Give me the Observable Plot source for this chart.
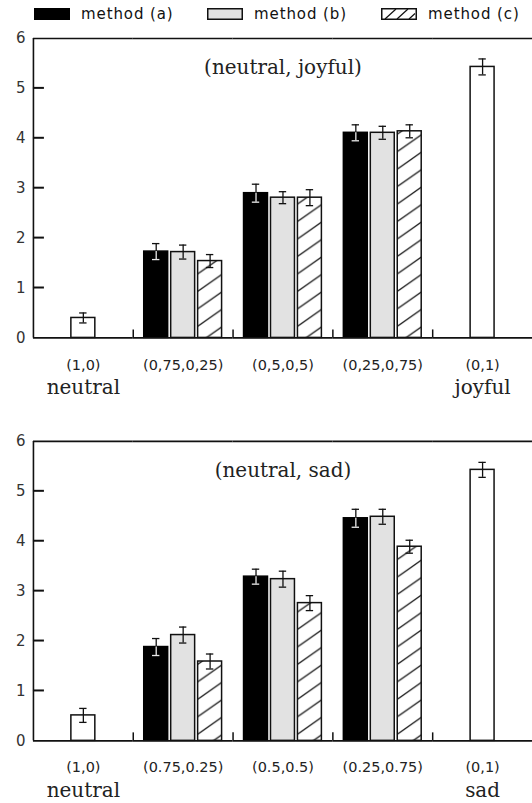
<!DOCTYPE html>
<html>
<head>
<meta charset="utf-8">
<script src="https://cdn.jsdelivr.net/npm/d3@7"></script>
<script src="https://cdn.jsdelivr.net/npm/@observablehq/plot@0.6"></script>
<style>
  html, body { margin: 0; padding: 0; background: #fff; }
  body { width: 532px; height: 803px; overflow: hidden; }
  #legend { position: relative; height: 28px; font-family: "DejaVu Sans", sans-serif; font-size: 15px; letter-spacing: 0.9px; color: #111; }
  .item { position: absolute; top: 0; height: 28px; display: flex; align-items: center; white-space: nowrap; }
  .item svg { margin-right: 11px; display: block; }
  svg.plotsvg { display: block; }
</style>
</head>
<body>
<svg width="0" height="0" style="position:absolute">
  <defs>
    <pattern id="hatch" patternUnits="userSpaceOnUse" width="25" height="17.5">
      <rect width="25" height="17.5" fill="#fff"></rect>
      <path d="M-1,0.7L26,-18.2M-1,18.2L26,-0.7M-1,35.7L26,16.8" stroke="#111" stroke-width="1.3"></path>
    </pattern>
  </defs>
</svg>
<div id="legend"></div>
<div id="top"></div>
<div id="bottom"></div>
<script>
// ---------- data ----------
const methodKeys = ["a", "b", "c"];
const methodNames = ["method (a)", "method (b)", "method (c)"];
const yTicks = [0, 1, 2, 3, 4, 5, 6];

// panel 1: (neutral, joyful)
const joyTitle = "(neutral, joyful)";
const joyLabels = ["(1,0)", "(0,75,0,25)", "(0,5,0,5)", "(0,25,0,75)", "(0,1)"];
const joyNames = ["neutral", "", "", "", "joyful"];
const joyEnds = [0.40, 5.43];        // (1,0) and (0,1)
const joyEndsErr = [0.10, 0.16];
const joyA = [1.73, 2.90, 4.11];
const joyAErr = [0.16, 0.18, 0.16];
const joyB = [1.72, 2.81, 4.11];
const joyBErr = [0.14, 0.12, 0.13];
const joyC = [1.54, 2.81, 4.14];
const joyCErr = [0.13, 0.16, 0.13];

// panel 2: (neutral, sad)
const sadTitle = "(neutral, sad)";
const sadLabels = ["(1,0)", "(0.75,0.25)", "(0.5,0.5)", "(0.25,0.75)", "(0,1)"];
const sadNames = ["neutral", "", "", "", "sad"];
const sadEnds = [0.51, 5.43];
const sadEndsErr = [0.14, 0.15];
const sadA = [1.88, 3.29, 4.46];
const sadAErr = [0.17, 0.15, 0.18];
const sadB = [2.12, 3.24, 4.49];
const sadBErr = [0.16, 0.16, 0.15];
const sadC = [1.59, 2.76, 3.89];
const sadCErr = [0.15, 0.15, 0.13];

// ---------- build rows ----------
function buildRows(ends, endsErr, A, AErr, B, BErr, C, CErr) {
  const rows = [];
  rows.push({g: 0, m: "b", v: ends[0], e: endsErr[0], end: true});
  [A, B, C].forEach((vals, mi) => {
    const errs = [AErr, BErr, CErr][mi];
    vals.forEach((v, i) => rows.push({g: i + 1, m: methodKeys[mi], v, e: errs[i], end: false}));
  });
  rows.push({g: 4, m: "b", v: ends[1], e: endsErr[1], end: true});
  return rows;
}

const groupsIdx = d3.range(joyLabels.length);
const MARGIN_LEFT = 33;

function panel(rows, labels, names, title, marginTop, marginBottom) {
  const labelRows = groupsIdx.map(i => ({g: i, label: labels[i], name: names[i]}));
  const ink = "#111";
  const svg = Plot.plot({
    width: 533,
    height: marginTop + 300 + marginBottom,
    marginLeft: MARGIN_LEFT, marginRight: 0, marginTop, marginBottom,
    style: {background: "transparent", overflow: "visible"},
    fx: {domain: groupsIdx, paddingInner: 0, paddingOuter: 0, axis: null},
    x: {domain: methodKeys, paddingInner: 0.1, paddingOuter: 0.355, axis: null},
    y: {domain: [0, 6], axis: null},
    marks: [
      // bars
      Plot.barY(rows.filter(d => d.end), {fx: "g", x: "m", y: "v", fill: "#fff", stroke: ink, strokeWidth: 1.5}),
      Plot.barY(rows.filter(d => !d.end && d.m === "a"), {fx: "g", x: "m", y: "v", fill: "#000", stroke: "#000", strokeWidth: 1.5}),
      Plot.barY(rows.filter(d => !d.end && d.m === "b"), {fx: "g", x: "m", y: "v", fill: "#e2e2e2", stroke: ink, strokeWidth: 1.5}),
      Plot.barY(rows.filter(d => !d.end && d.m === "c"), {fx: "g", x: "m", y: "v", fill: "url(#hatch)", stroke: ink, strokeWidth: 1.5}),
      // error bars
      Plot.ruleX(rows, {fx: "g", x: "m", y1: d => d.v - d.e, y2: d => d.v + d.e, stroke: ink, strokeWidth: 1.3}),
      Plot.tickY(rows, {fx: "g", x: "m", y: d => d.v + d.e, stroke: ink, strokeWidth: 1.3, insetLeft: 8.3, insetRight: 8.3}),
      Plot.tickY(rows, {fx: "g", x: "m", y: d => d.v - d.e, stroke: ink, strokeWidth: 1.3, insetLeft: 8.3, insetRight: 8.3}),
      // light error bar inside the black bars
      Plot.ruleX(rows.filter(d => !d.end && d.m === "a"), {fx: "g", x: "m", y1: d => d.v - d.e, y2: "v", stroke: "#e8e8e8", strokeWidth: 1.3}),
      Plot.tickY(rows.filter(d => !d.end && d.m === "a"), {fx: "g", x: "m", y: d => d.v - d.e, stroke: "#e8e8e8", strokeWidth: 1.3, insetLeft: 8.3, insetRight: 8.3}),
      // frame: top and bottom lines
      Plot.ruleY([0, 6], {stroke: ink, strokeWidth: 1.6}),
      // left axis line (left edge of first group)
      Plot.ruleX([0], {fx: d => d, x: null, y1: 0, y2: 6, dx: -50, stroke: ink, strokeWidth: 1.6}),
      // group separators on the baseline
      Plot.ruleX(groupsIdx.slice(1), {fx: d => d, x: null, y1: 0, y2: 0.16, dx: -50, stroke: ink, strokeWidth: 1.5}),
      // y axis labels
      Plot.axisY(yTicks, {tickSize: 0, tickPadding: 8, tickFormat: "d", fontSize: 15, fontFamily: "DejaVu Sans", fill: "#333", label: null}),
      // group labels
      Plot.text(labelRows, {fx: "g", text: "label", frameAnchor: "bottom", dy: 27, lineAnchor: "middle", fontFamily: "DejaVu Sans", fontSize: 14.5, fill: "#222", style: "letter-spacing:1.1px"}),
      Plot.text(labelRows.filter(d => d.name), {fx: "g", text: "name", frameAnchor: "bottom", dy: 50, lineAnchor: "middle", fontFamily: "DejaVu Serif", fontSize: 20, fill: "#222", style: "letter-spacing:0.5px"}),
      // panel title
      Plot.text([title], {fx: () => 2, text: d => d, frameAnchor: "top", dy: 29, lineAnchor: "middle", fontFamily: "DejaVu Serif", fontSize: 20, fill: "#222", style: "letter-spacing:0.5px"})
    ]
  });
  // inward y ticks, positioned with the plot's own y scale
  const yScale = svg.scale("y");
  d3.select(svg).append("g")
    .attr("stroke", ink).attr("stroke-width", 2)
    .selectAll("line").data(yTicks.slice(1, -1)).join("line")
    .attr("x1", MARGIN_LEFT).attr("x2", MARGIN_LEFT + 11)
    .attr("y1", d => yScale.apply(d)).attr("y2", d => yScale.apply(d));
  return svg;
}

// ---------- legend ----------
const legend = document.getElementById("legend");
const legendLeft = [34, 207, 381];
const swatches = [
  '<svg width="36" height="12"><rect x="0.75" y="0.75" width="34.5" height="10.5" fill="#000" stroke="#000" stroke-width="1.5"/></svg>',
  '<svg width="36" height="12"><rect x="0.75" y="0.75" width="34.5" height="10.5" fill="#e2e2e2" stroke="#111" stroke-width="1.5"/></svg>',
  '<svg width="36" height="12"><rect x="0.75" y="0.75" width="34.5" height="10.5" fill="#fff" stroke="#111" stroke-width="1.5"/><path d="M4,11L15,1M16,11L27,1M28,11L34,5.5" stroke="#111" stroke-width="1.2"/></svg>'
];
methodNames.forEach((name, i) => {
  const div = document.createElement("div");
  div.className = "item";
  div.style.left = legendLeft[i] + "px";
  div.innerHTML = swatches[i] + "<span>" + name + "</span>";
  legend.appendChild(div);
});

// ---------- panels ----------
const joyRows = buildRows(joyEnds, joyEndsErr, joyA, joyAErr, joyB, joyBErr, joyC, joyCErr);
const sadRows = buildRows(sadEnds, sadEndsErr, sadA, sadAErr, sadB, sadBErr, sadC, sadCErr);
const p1 = panel(joyRows, joyLabels, joyNames, joyTitle, 10, 64);
const p2 = panel(sadRows, sadLabels, sadNames, sadTitle, 40, 61);
p1.classList.add("plotsvg");
p2.classList.add("plotsvg");
document.getElementById("top").appendChild(p1);
document.getElementById("bottom").appendChild(p2);
</script>
</body>
</html>
